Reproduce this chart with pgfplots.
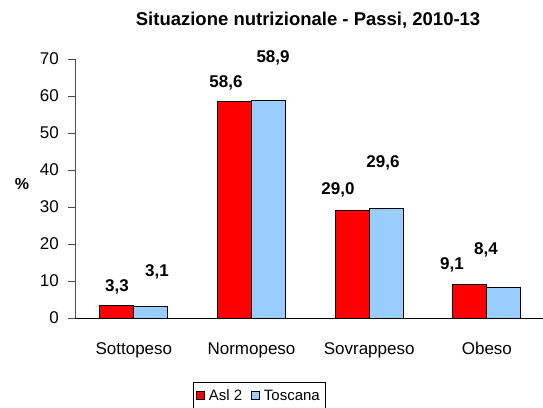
\documentclass[border=0pt]{standalone}
\usepackage{pgfplots}
\pgfplotsset{compat=1.18}
\usepackage{fontspec}
\setmainfont{Liberation Sans}
\definecolor{aslred}{HTML}{FF0000}
\definecolor{tosblue}{HTML}{99CCFF}
\begin{document}
\begin{tikzpicture}
\path[use as bounding box] (0,0) rectangle (543bp,-408bp);
\begin{axis}[
  at={(75bp,-318bp)}, anchor=south west,
  scale only axis,
  width=468bp, height=259bp,
  xmin=-0.5, xmax=3.477,
  ymin=0, ymax=70,
  ytick={0,10,...,70},
  xtick={0,1,2,3},
  xticklabels={Sottopeso,Normopeso,Sovrappeso,Obeso},
  axis x line*=bottom, axis y line*=left,
  axis line style={-, line width=0.8bp},
  x axis line style={black},
  y axis line style={black!70},
  tick align=outside,
  major tick length=7bp,
  major x tick style={draw=none},
  y tick style={black!70, line width=0.8bp},
  /pgf/number format/assume math mode=true,
  tick label style={font=\fontsize{17bp}{20bp}\selectfont},
  yticklabel style={anchor=east, inner sep=0pt, xshift=-9bp},
  xticklabel style={anchor=base, inner sep=0pt, yshift=-29bp},
  ybar=0pt, bar width=34bp,
  clip=false,
  title={\bfseries Situazione nutrizionale - Passi, 2010-13},
  title style={font=\fontsize{18.5bp}{22bp}\selectfont, at={(0.498,1)}, anchor=center, yshift=33bp},
  ylabel={\bfseries\%},
  ylabel style={rotate=-90, font=\fontsize{16bp}{19bp}\selectfont, at={(axis description cs:-0.113,0.517)}, anchor=center},
  legend columns=2,
  legend style={at={(axis description cs:0.393,-0.3)}, anchor=center, draw=black, line width=0.6bp,
    font=\fontsize{15bp}{18bp}\selectfont, inner xsep=3bp, inner ysep=5bp,
    /tikz/every odd column/.append style={column sep=2bp},
    /tikz/every even column/.append style={column sep=7bp}},
  legend image code/.code={\draw[#1, draw=black, line width=0.8bp] (0bp,-4bp) rectangle (8bp,4bp);},
]
\addplot[fill=aslred, draw=black, line width=0.8bp] coordinates {(0,3.3) (1,58.6) (2,29.0) (3,9.1)};
\addplot[fill=tosblue, draw=black, line width=0.8bp] coordinates {(0,3.1) (1,58.9) (2,29.6) (3,8.4)};
\legend{Asl 2,Toscana}
\begin{scope}[every node/.style={font=\bfseries\fontsize{17bp}{20bp}\selectfont, anchor=center}]
\node at (axis cs:-0.143,8.4) {3,3};
\node at (axis cs:0.197,12.4) {3,1};
\node at (axis cs:0.783,63.5) {58,6};
\node at (axis cs:1.183,70.3) {58,9};
\node at (axis cs:1.735,34.6) {29,0};
\node at (axis cs:2.117,41.9) {29,6};
\node at (axis cs:2.704,14.3) {9,1};
\node at (axis cs:2.993,18.4) {8,4};
\end{scope}
\end{axis}
\end{tikzpicture}
\end{document}
